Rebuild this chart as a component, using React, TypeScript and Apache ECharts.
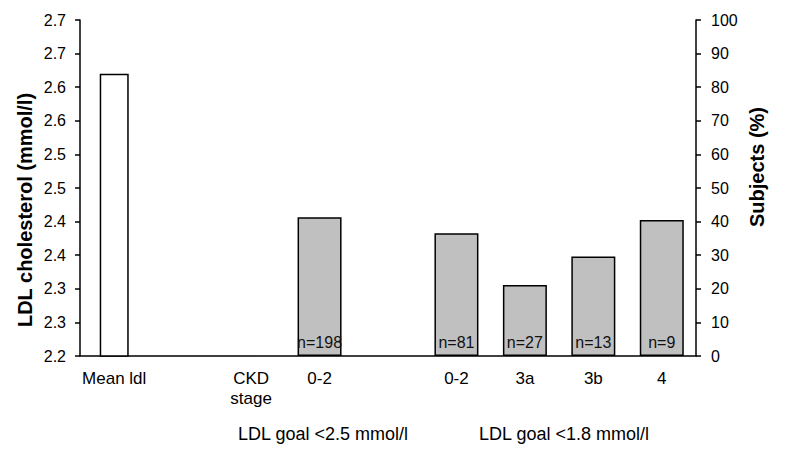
import React, { useEffect, useRef } from "react";
import * as echarts from "echarts";

const categories = ["Mean ldl", "", "CKD\nstage", "0-2", "", "0-2", "3a", "3b", "4"];
const meanLdl = [2.62, null, null, null, null, null, null, null, null];
const subjectsPct = [null, null, null, 41.3, null, 36.5, 21.1, 29.6, 40.5];
const nLabels = ["", "", "", "n=198", "", "n=81", "n=27", "n=13", "n=9"];
const leftTickLabels = ["2.2", "2.3", "2.3", "2.4", "2.4", "2.5", "2.5", "2.6", "2.6", "2.7", "2.7"];
const groupTitles = ["LDL goal <2.5 mmol/l", "LDL goal <1.8 mmol/l"];

const FONT = "Liberation Sans, Arial, sans-serif";

export default function App() {
  const ref = useRef<HTMLDivElement>(null);
  useEffect(() => {
    if (!ref.current) return;
    const chart = echarts.init(ref.current, undefined, { renderer: "svg" });
    chart.setOption({
      animation: false,
      backgroundColor: "#ffffff",
      grid: { left: 80, right: 104, top: 20, bottom: 115 },
      xAxis: [
        {
          type: "category",
          data: categories,
          boundaryGap: true,
          axisLine: { show: true, lineStyle: { color: "#000", width: 1.5 } },
          axisTick: { show: false },
          axisLabel: {
            color: "#000",
            fontSize: 17,
            fontFamily: FONT,
            lineHeight: 20,
            margin: 12,
            interval: 0,
          },
        },
        {
          type: "category",
          data: categories,
          boundaryGap: true,
          position: "bottom",
          show: false,
        },
      ],
      yAxis: [
        {
          type: "value",
          min: 2.2,
          max: 2.7,
          interval: 0.05,
          axisLine: { show: true, lineStyle: { color: "#000", width: 1.5 } },
          axisTick: { show: true, inside: false, length: 5, lineStyle: { color: "#000", width: 1.5 } },
          splitLine: { show: false },
          axisLabel: {
            color: "#000",
            fontSize: 16,
            fontFamily: FONT,
            margin: 14,
            formatter: (v: number) => leftTickLabels[Math.round((v - 2.2) / 0.05)] ?? "",
          },
        },
        {
          type: "value",
          min: 0,
          max: 100,
          interval: 10,
          position: "right",
          axisLine: { show: true, lineStyle: { color: "#000", width: 1.5 } },
          axisTick: { show: true, inside: false, length: 5, lineStyle: { color: "#000", width: 1.5 } },
          splitLine: { show: false },
          axisLabel: { color: "#000", fontSize: 16, fontFamily: FONT, margin: 15 },
        },
      ],
      series: [
        {
          type: "bar",
          xAxisIndex: 0,
          yAxisIndex: 0,
          data: meanLdl,
          barWidth: 29,
          itemStyle: { color: "#ffffff", borderColor: "#000", borderWidth: 1.5 },
        },
        {
          type: "bar",
          xAxisIndex: 1,
          yAxisIndex: 1,
          data: subjectsPct,
          barWidth: 44,
          itemStyle: { color: "#c0c0c0", borderColor: "#000", borderWidth: 1.5 },
          label: {
            show: true,
            position: "insideBottom",
            distance: 6,
            color: "#111",
            fontSize: 16,
            fontFamily: FONT,
            formatter: (p: any) => nLabels[p.dataIndex],
          },
        },
      ],
      graphic: [
        {
          type: "text",
          x: 25,
          y: 210,
          rotation: Math.PI / 2,
          style: {
            text: "LDL cholesterol (mmol/l)",
            font: `bold 20px ${FONT}`,
            fill: "#000",
            align: "center",
            verticalAlign: "middle",
          },
        },
        {
          type: "text",
          x: 757,
          y: 167,
          rotation: Math.PI / 2,
          style: {
            text: "Subjects (%)",
            font: `bold 20px ${FONT}`,
            fill: "#000",
            align: "center",
            verticalAlign: "middle",
          },
        },
        {
          type: "text",
          x: 323,
          y: 434,
          style: {
            text: groupTitles[0],
            font: `18px ${FONT}`,
            fill: "#000",
            align: "center",
            verticalAlign: "middle",
          },
        },
        {
          type: "text",
          x: 564,
          y: 434,
          style: {
            text: groupTitles[1],
            font: `18px ${FONT}`,
            fill: "#000",
            align: "center",
            verticalAlign: "middle",
          },
        },
      ],
    });
    return () => chart.dispose();
  }, []);
  return <div ref={ref} style={{ width: 800, height: 471, margin: -8 }} />;
}
